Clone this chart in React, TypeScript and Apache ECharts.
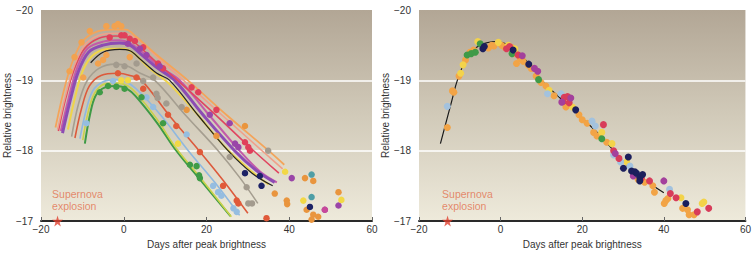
import React, { useEffect, useRef } from "react";
import * as echarts from "echarts";

const FONT = "'Liberation Sans', Arial, Helvetica, sans-serif";

// axis ticks
const xTicks = [-20, 0, 20, 40, 60];
const yTicks = [-20, -19, -18, -17];

// ---------- left panel: individual light curves ----------
const curveOrange = [[-16.5,-18.33],[-14.5,-18.85],[-12.5,-19.25],[-10,-19.55],[-7,-19.68],[-3,-19.72],[0.5,-19.72],[3,-19.62],[8,-19.36],[15.5,-19.0],[25,-18.5],[35,-18.0],[38.8,-17.8]];
const curveSalmon = [[-16,-18.3],[-14,-18.8],[-12,-19.2],[-9.5,-19.5],[-6,-19.64],[-2,-19.67],[1,-19.66],[4,-19.55],[9,-19.28],[15,-18.97],[25,-18.44],[34,-17.97],[38.4,-17.74]];
const curveRed = [[-15.8,-18.28],[-14,-18.75],[-12,-19.15],[-9.5,-19.45],[-6,-19.6],[-2,-19.63],[0.5,-19.62],[3,-19.52],[8,-19.25],[13,-19.0],[22,-18.52],[31,-18.02],[37.5,-17.68]];
const curvePurple = [[-14.8,-18.25],[-13,-18.7],[-11,-19.12],[-8.5,-19.4],[-5,-19.5],[-1,-19.53],[1.5,-19.5],[4,-19.38],[8,-19.18],[12.3,-19.0],[19,-18.52],[26.8,-18.0],[32,-17.72],[36.5,-17.55]];
const curveMagenta = [[-15.2,-18.28],[-13.3,-18.75],[-11.3,-19.17],[-8.8,-19.45],[-5,-19.55],[-1,-19.57],[1.5,-19.53],[4.5,-19.4],[9,-19.18],[13.5,-19.0],[20,-18.55],[28,-18.0],[33,-17.7],[37,-17.55]];
const curveYellow = [[-13.5,-18.3],[-11.8,-18.75],[-9.8,-19.15],[-7,-19.38],[-3,-19.45],[0,-19.45],[2.5,-19.38],[6,-19.18],[11,-18.95],[18,-18.5],[25,-18.02],[31,-17.7],[35,-17.52]];
const curveBlack = [[-8,-19.25],[-5,-19.4],[-1,-19.44],[1.5,-19.42],[4,-19.3],[8,-19.1],[11.1,-19.0],[18,-18.5],[25.2,-18.0],[31,-17.68],[36,-17.5]];
const curveGrey = [[-12.6,-18.2],[-11,-18.65],[-9,-18.98],[-6,-19.17],[-2,-19.23],[1,-19.2],[4,-19.1],[7.5,-19.0],[15,-18.5],[22.8,-18.0],[28,-17.62],[32.4,-17.25]];
const curveRedOrange = [[-11.8,-18.18],[-10.2,-18.6],[-8.3,-18.92],[-5.5,-19.07],[-1.5,-19.1],[1.5,-19.07],[4.3,-19.0],[11,-18.5],[18.2,-18.0],[24,-17.58],[30,-17.11]];
const curveBlue = [[-10.6,-18.17],[-9.2,-18.55],[-7.5,-18.85],[-5,-18.98],[-2,-19.01],[0.5,-18.98],[3,-18.88],[9,-18.5],[15.6,-18.0],[22,-17.55],[28,-17.08]];
const curveLime = [[-9.9,-18.15],[-8.6,-18.55],[-7,-18.82],[-4.5,-18.95],[-1.5,-18.96],[1,-18.92],[3,-18.82],[8,-18.45],[12.5,-18.05],[19,-17.58],[26,-17.06]];
const curveGreen = [[-9.4,-18.1],[-8.2,-18.5],[-6.8,-18.78],[-4.5,-18.9],[-1.5,-18.92],[0.8,-18.88],[2.8,-18.78],[8,-18.4],[12.7,-18.0],[19,-17.55],[25.8,-17.07]];

// left panel observations
const leftLightOrange = [[-8.2,-19.7],[-10.2,-19.54],[-11.9,-19.33],[-13.1,-19.13],[-9.8,-19.04],[-4.2,-19.77],[-2.2,-19.77],[-1.4,-19.8],[-0.6,-19.77],[-6.2,-19.24],[-4.2,-19.36],[-5,-19.29],[1.45,-19.33]];
const leftOrange = [[15.2,-18.58],[22.4,-18.21],[29.3,-18.35],[36.5,-17.39],[39.4,-17.29],[39.5,-17.24],[44.2,-17.16],[45.8,-17.09],[47,-17.06],[45.4,-17.02],[51.9,-17.41],[43.8,-17.61],[45.8,-17.57]];
const leftRed = [[-3.4,-19.61],[-0.6,-19.64],[0.2,-19.64],[1.45,-19.59],[2.7,-19.56],[4.7,-19.47],[8.3,-19.24],[9.5,-19.17],[16.4,-18.9],[18,-18.83],[22.4,-18.58],[29.3,-18.12],[30.1,-18.05],[30.5,-18.0]];
const leftPurple = [[1,-19.52],[3.9,-19.45],[5.5,-19.36],[8.7,-19.2],[20.8,-18.51],[25.6,-18.39],[26.9,-18.1],[27.7,-18.05],[40.6,-17.61],[48.6,-17.16],[51.9,-17.22]];
const leftGrey = [[-1.8,-19.22],[0.2,-19.2],[3.1,-19.24],[4.7,-18.99],[7.1,-19.04],[7.9,-18.81],[8.2,-18.75],[10.3,-18.67],[14,-18.62],[25.6,-17.91],[29.7,-17.48],[30.1,-17.25],[31,-17.25],[34.9,-18.0]];
const leftBlue = [[-2.6,-18.99],[5.5,-18.76],[7.1,-18.62],[15.2,-18.23],[21.6,-17.5],[22.8,-17.41],[23.6,-17.36],[26.5,-17.18],[27.3,-17.13],[-9,-18.39]];
const leftYellow = [[-0.6,-19.0],[1,-19.0],[13.1,-18.1],[43.4,-17.29],[39,-17.7],[52.6,-17.3]];
const leftGreen = [[-5.8,-18.83],[-3.8,-18.92],[-1.8,-18.91],[0.2,-18.88],[4.3,-18.76],[9.5,-18.39],[16,-17.8],[17.6,-17.78],[18.4,-17.61],[18.2,-17.65]];
const leftRedOrange = [[-1.4,-19.1],[3.1,-19.04],[4.7,-18.88],[10.7,-18.51],[12.7,-18.35],[18.4,-17.98],[24,-17.5],[27.3,-17.29],[27.7,-17.25],[34.5,-17.04]];
const leftNavy = [[29.3,-17.68],[32.9,-17.64],[33.3,-17.5],[45,-17.2]];
const leftTeal = [[45.4,-17.66],[45.4,-17.34]];
const leftPink = [[48.6,-17.16]];

// ---------- right panel: stretched light curves ----------
const templateCurve = [[-14.75,-18.1],[-12,-18.7],[-10.6,-19.0],[-8,-19.35],[-5,-19.5],[-1,-19.55],[2,-19.5],[5,-19.35],[8,-19.17],[10,-19.0],[14,-18.78],[20,-18.46],[25,-18.18],[30,-17.85],[35,-17.6],[40,-17.4]];
const rightOrange = [[-13.06,-18.33],[-11.45,-18.83],[-11.8,-18.85],[-10.2,-19.06],[-8.6,-19.29],[-7.5,-19.4],[-6.6,-19.43],[-3,-19.46],[-2.2,-19.5],[-1.6,-19.49],[0.24,-19.5],[1,-19.47],[2.66,-19.47],[3.7,-19.38],[4.8,-19.31],[3.9,-19.24],[5.5,-19.27],[6.7,-19.22],[7.5,-19.17],[8.7,-19.06],[9.9,-18.97],[11.1,-18.92],[13.1,-18.78],[16,-18.62],[19.2,-18.51],[20,-18.44],[21.2,-18.39],[22.8,-18.26],[23.6,-18.21],[26,-18.12],[33.7,-17.59],[35.3,-17.55],[37.3,-17.5],[37.7,-17.41],[40.5,-17.29],[40.1,-17.25],[41,-17.32],[44.6,-17.18],[45.8,-17.16],[46.2,-17.09],[47.4,-17.09]];
const rightYellow = [[-9.8,-19.1],[-9.2,-19.22],[-5.6,-19.55],[-0.56,-19.54],[1.9,-19.5],[3.5,-19.45],[11.9,-18.86],[17.6,-18.62],[24.8,-18.26],[27.3,-18.1],[30.9,-17.84],[44.2,-17.33],[49.4,-17.25],[49.8,-17.27]];
const rightGreen = [[-8.2,-19.36],[-7.2,-19.38],[-6.2,-19.4],[-5,-19.52],[9.3,-19.01],[24.8,-18.17],[2.8,-19.38]];
const rightNavy = [[-4.35,-19.45],[-4,-19.48],[3.06,-19.43],[6.9,-19.23],[18.4,-18.58],[30.1,-17.75],[31.3,-17.91],[32.1,-17.71],[32.9,-17.7],[33.3,-17.68],[34.1,-17.62],[34.8,-17.66],[34.1,-17.57],[45.4,-17.25]];
const rightRed = [[1.45,-19.45],[2.2,-19.48],[4.3,-19.36],[15.6,-18.76],[16.4,-18.77],[16.8,-18.68],[15.3,-18.7],[25.2,-18.37],[27.7,-18.0],[29,-17.89],[34.5,-17.61],[36.5,-17.57],[41.6,-17.39],[43,-17.33],[48.2,-17.13],[51,-17.18]];
const rightMagenta = [[5.3,-19.35],[8.3,-19.17],[9.1,-19.13],[15,-18.69],[17.2,-18.75],[28.1,-17.96],[32.5,-17.64],[40,-17.57]];
const rightBlue = [[-13.06,-18.63],[11.5,-18.81],[14.8,-18.81],[22.4,-18.42],[23.2,-18.35],[27.7,-17.94],[29.4,-17.84],[31.7,-17.78],[41.4,-17.45]];

// explosion markers
const explosionLeft = [[-16, -17]];
const explosionRight = [[-13, -17]];
const explosionText = "Supernova\nexplosion";

const STAR = "path://M50,0 L61,35 L98,35 L68,57 L79,91 L50,70 L21,91 L32,57 L2,35 L39,35 Z";

const fmt = (v: number) => String(v).replace("-", "\u2212");

function buildOption() {
  const bg = new echarts.graphic.LinearGradient(0, 0, 0, 1, [
    { offset: 0, color: "#b2a695" },
    { offset: 0.5, color: "#d1cab9" },
    { offset: 1, color: "#eeeadb" },
  ]);
  const grids = [
    { left: 41, top: 10, width: 331, height: 218, show: true, backgroundColor: bg, borderWidth: 0 },
    { left: 419, top: 10, width: 331, height: 218, show: true, backgroundColor: bg, borderWidth: 0 },
  ];
  const xAxis = [0, 1].map((i) => ({
    type: "value",
    gridIndex: i,
    min: xTicks[0],
    max: xTicks[xTicks.length - 1],
    interval: 20,
    name: "Days after peak brightness",
    nameLocation: "middle",
    nameGap: 18,
    nameTextStyle: { fontFamily: FONT, fontSize: 10, color: "#333" },
    axisLine: { show: true, lineStyle: { color: "#2a2a2a", width: 2 } },
    axisTick: { show: true, inside: true, length: 4, lineStyle: { color: "#666", width: 1 } },
    axisLabel: { formatter: fmt, fontFamily: FONT, fontSize: 10, color: "#333", margin: 3 },
    splitLine: { show: false },
  }));
  const yAxis = [0, 1].map((i) => ({
    type: "value",
    gridIndex: i,
    inverse: true,
    min: yTicks[0],
    max: yTicks[yTicks.length - 1],
    interval: 1,
    name: "Relative brightness",
    nameLocation: "middle",
    nameGap: 22,
    nameTextStyle: { fontFamily: FONT, fontSize: 10, color: "#333" },
    axisLine: { show: false },
    axisTick: { show: false },
    axisLabel: { formatter: fmt, fontFamily: FONT, fontSize: 10, color: "#333", margin: 8 },
    splitLine: {
      show: true,
      lineStyle: { color: ["rgba(0,0,0,0)", "#ffffff", "#ffffff", "rgba(0,0,0,0)"], width: 1.5 },
    },
  }));

  const line = (data: number[][], color: string, width: number, g: number) => ({
    type: "line",
    xAxisIndex: g,
    yAxisIndex: g,
    data,
    smooth: 0.35,
    showSymbol: false,
    symbol: "none",
    lineStyle: { color, width },
    z: 2,
  });
  const dots = (data: number[][], color: string, g: number, size = 6.5) => ({
    type: "scatter",
    xAxisIndex: g,
    yAxisIndex: g,
    data,
    symbolSize: size,
    itemStyle: { color, opacity: 1 },
    z: 3,
  });
  const star = (data: number[][], g: number) => ({
    type: "scatter",
    xAxisIndex: g,
    yAxisIndex: g,
    data,
    symbol: STAR,
    symbolSize: 11,
    itemStyle: { color: "#e0402e" },
    z: 5,
    label: {
      show: true,
      formatter: explosionText,
      position: [0, -4],
      align: "left",
      verticalAlign: "bottom",
      fontFamily: FONT,
      fontSize: 10.5,
      lineHeight: 12,
      color: "#e2714f",
    },
  });

  const series = [
    line(curveGreen, "#3e9a45", 2, 0),
    line(curveLime, "#c9d24a", 1.6, 0),
    line(curveBlue, "#8fb8df", 1.6, 0),
    line(curveRedOrange, "#dc5a3c", 1.6, 0),
    line(curveGrey, "#a59e90", 1.6, 0),
    line(curveYellow, "#efd44a", 2, 0),
    line(curveBlack, "#222222", 1.2, 0),
    line(curveMagenta, "#c35aa9", 2, 0),
    line(curvePurple, "#8c4cb4", 3, 0),
    line(curveRed, "#e04660", 1.6, 0),
    line(curveSalmon, "#f0a08a", 1.6, 0),
    line(curveOrange, "#f4a45a", 1.8, 0),
    dots(leftLightOrange, "#f2a24f", 0),
    dots(leftOrange, "#e9953e", 0),
    dots(leftRed, "#e0405a", 0),
    dots(leftPurple, "#9a45a8", 0),
    dots(leftGrey, "#a39b8e", 0),
    dots(leftBlue, "#95bde0", 0),
    dots(leftYellow, "#f2d846", 0),
    dots(leftGreen, "#3f9b46", 0),
    dots(leftRedOrange, "#e05a3a", 0),
    dots(leftNavy, "#1d2266", 0),
    dots(leftTeal, "#4e9ea6", 0),
    dots(leftPink, "#c8489a", 0),
    line(templateCurve, "#1a1a1a", 1.2, 1),
    dots(rightOrange, "#f2a446", 1, 7),
    dots(rightYellow, "#f3d34a", 1, 7),
    dots(rightBlue, "#a3c2de", 1, 7),
    dots(rightGreen, "#3f9a48", 1, 7),
    dots(rightRed, "#d83c5a", 1, 7),
    dots(rightMagenta, "#a3409c", 1, 7),
    dots(rightNavy, "#1c1f5c", 1, 7),
    star(explosionLeft, 0),
    star(explosionRight, 1),
  ];

  return {
    animation: false,
    backgroundColor: "#ffffff",
    textStyle: { fontFamily: FONT },
    grid: grids,
    xAxis,
    yAxis,
    series,
  };
}

export default function App() {
  const ref = useRef<HTMLDivElement>(null);
  useEffect(() => {
    document.body.style.margin = "0";
    if (!ref.current) return;
    const chart = echarts.init(ref.current, undefined, { renderer: "svg" });
    chart.setOption(buildOption() as any);
    return () => chart.dispose();
  }, []);
  return <div ref={ref} style={{ width: 754, height: 254 }} />;
}
